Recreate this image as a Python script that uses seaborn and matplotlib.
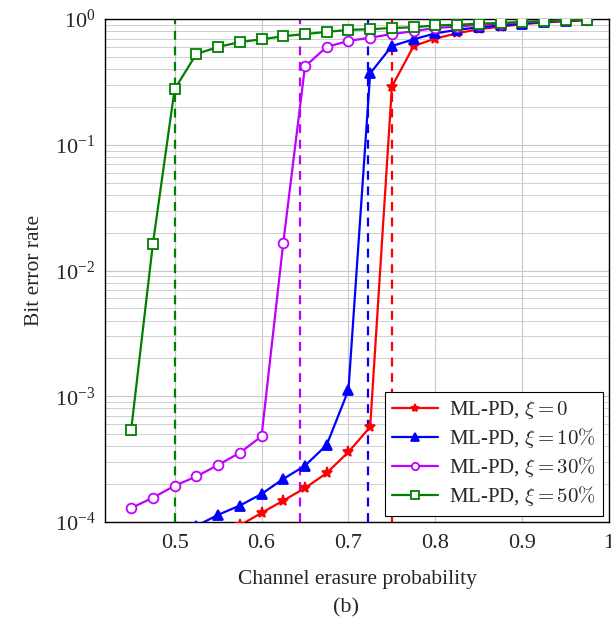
import numpy as np
import pandas as pd
import matplotlib
matplotlib.use('Agg')
import matplotlib.pyplot as plt
import seaborn as sns
from matplotlib.ticker import LogLocator, FixedLocator

# erasure probabilities (0.45 .. 0.975 in steps of 0.025)
eps = [0.45, 0.475, 0.5, 0.525, 0.55, 0.575, 0.6, 0.625, 0.65, 0.675, 0.7, 0.725,
       0.75, 0.775, 0.8, 0.825, 0.85, 0.875, 0.9, 0.925, 0.95, 0.975]

# bit error rates (None = below the plotted range)
ber_0 = [None, None, None, None, None, 9.4e-5, 1.18e-4, 1.48e-4, 1.86e-4, 2.45e-4, 3.6e-4, 5.7e-4,
         0.29, 0.61, 0.70, 0.77, 0.83, 0.87, 0.91, 0.94, 0.96, 0.98]
ber_10 = [None, None, None, 9.3e-5, 1.14e-4, 1.35e-4, 1.67e-4, 2.2e-4, 2.8e-4, 4.1e-4, 1.12e-3, 0.37,
          0.61, 0.69, 0.77, 0.82, 0.86, 0.89, 0.92, 0.95, 0.97, 0.985]
ber_30 = [1.29e-4, 1.56e-4, 1.94e-4, 2.3e-4, 2.84e-4, 3.55e-4, 4.8e-4, 0.0166, 0.42, 0.60, 0.67, 0.71,
          0.76, 0.80, 0.85, 0.87, 0.90, 0.92, 0.94, 0.96, 0.98, 0.99]
ber_50 = [5.4e-4, 0.0163, 0.277, 0.527, 0.60, 0.656, 0.69, 0.73, 0.76, 0.79, 0.82, 0.83,
          0.85, 0.86, 0.89, 0.90, 0.92, 0.93, 0.95, 0.96, 0.98, 0.99]

# thresholds (dashed verticals)
thresholds = [0.75, 0.722, 0.644, 0.5]

labels = [r'ML-PD, $\xi = 0$', r'ML-PD, $\xi = 10\%$',
          r'ML-PD, $\xi = 30\%$', r'ML-PD, $\xi = 50\%$']
colors = ['#ff0000', '#0000ff', '#bf00ff', '#008000']
markers = ['*', '^', 'o', 's']
fills = [True, True, False, False]

sns.set_style('white')
plt.rcParams['font.family'] = ['Liberation Serif', 'DejaVu Serif']
plt.rcParams['mathtext.fontset'] = 'cm'
plt.rcParams['font.size'] = 15

fig = plt.figure(figsize=(6.11, 6.35), dpi=100)
ax = fig.add_axes([0.172, 0.178, 0.825, 0.792])

series = [ber_0, ber_10, ber_30, ber_50]
for i, ber in enumerate(series):
    df = pd.DataFrame({'eps': eps, 'ber': ber}).dropna()
    ax.axvline(thresholds[i], color=colors[i], ls=(0, (4, 3)), lw=1.6, zorder=2)
    sns.lineplot(data=df, x='eps', y='ber', ax=ax, color=colors[i], lw=1.6,
                 marker=markers[i], markersize=8 if markers[i] == '*' else 7,
                 markeredgewidth=1.3, markeredgecolor=colors[i],
                 markerfacecolor=colors[i] if fills[i] else 'white',
                 label=labels[i], zorder=3)

ax.set_yscale('log')
ax.set_xlim(0.42, 1.0)
ax.set_ylim(1e-4, 1.0)
ax.xaxis.set_major_locator(FixedLocator([0.5, 0.6, 0.7, 0.8, 0.9, 1.0]))
ax.set_xticklabels(['0.5', '0.6', '0.7', '0.8', '0.9', '1'])
ax.yaxis.set_major_locator(LogLocator(base=10, numticks=10))
ax.yaxis.set_minor_locator(LogLocator(base=10, subs=np.arange(2, 10), numticks=10))
ax.grid(True, which='major', color='#c8c8c8', lw=0.8)
ax.grid(True, which='minor', axis='y', color='#c8c8c8', lw=0.6)
ax.tick_params(which='both', direction='in', labelsize=16)
ax.tick_params(axis='x', pad=9)
ax.tick_params(axis='y', pad=7)
ax.tick_params(which='major', length=5)
ax.tick_params(which='minor', length=3)
for s in ax.spines.values():
    s.set_color('black')
    s.set_linewidth(1.0)

ax.set_xlabel('Channel erasure probability', fontsize=15.5, labelpad=12)
ax.set_ylabel('Bit error rate', fontsize=15.5, labelpad=8)

leg = ax.legend(loc='lower right', fontsize=15, frameon=True, fancybox=False,
                framealpha=1, edgecolor='black', handlelength=2.2, markerscale=0.75,
                borderaxespad=0.3, labelspacing=0.25, borderpad=0.35, handletextpad=0.5)
leg.get_frame().set_linewidth(0.8)

fig.text(0.566, 0.035, '(b)', ha='center', fontsize=16)

fig.savefig('out.png', dpi=100)
